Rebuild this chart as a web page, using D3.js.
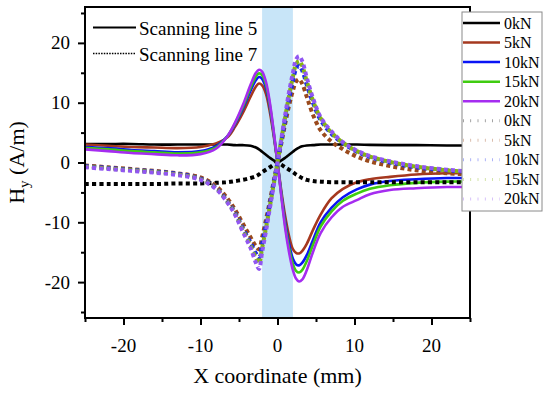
<!DOCTYPE html>
<html><head><meta charset="utf-8"><script src="https://cdn.jsdelivr.net/npm/d3@7"></script></head>
<body style="margin:0">
<script>
// ---- data ----
const xCoord = [-25,-22,-19,-16,-13,-10,-8,-6.5,-5.5,-4.5,-3.5,-2.8,-2.4,-2,-1.5,-1,-0.5,0,0.5,1,1.5,2,2.4,2.8,3.2,3.8,4.6,5.6,7,8.5,10.3,12,14.6,18,22,25];

const line5_0kN  = [3.1,3.1,3.1,3.0,3.0,3.0,3.0,3.0,2.9,2.9,2.8,2.5,2.2,1.8,1.3,0.8,0.35,0,0.35,0.8,1.3,1.8,2.2,2.5,2.7,2.85,2.9,3.0,3.0,3.0,3.0,2.95,2.9,2.9,2.85,2.85];
const line5_5kN  = [3.0,2.8,2.6,2.5,2.4,2.6,3.2,4.2,6.0,8.3,11.0,12.7,13.2,12.9,11.5,8.5,4.5,0,-4.8,-9.0,-12.3,-14.5,-15.1,-15.2,-14.8,-13.6,-11.3,-8.7,-6.0,-4.4,-3.3,-2.8,-2.4,-2.0,-1.8,-1.8];
const line5_10kN = [2.6,2.4,2.1,1.9,1.7,1.9,2.7,4.4,6.4,9.0,12.0,13.8,14.3,14.0,12.5,9.3,4.9,0,-5.3,-10.0,-13.6,-16.1,-17.0,-17.2,-16.8,-15.5,-13.0,-10.0,-7.6,-5.8,-4.5,-3.7,-3.1,-2.8,-2.6,-2.6];
const line5_15kN = [2.4,2.2,1.9,1.7,1.5,1.7,2.5,4.4,6.6,9.3,12.5,14.4,14.9,14.6,13.0,9.7,5.1,0,-5.5,-10.5,-14.3,-17.0,-18.1,-18.4,-18.0,-16.5,-13.8,-10.7,-8.2,-6.4,-5.2,-4.4,-3.8,-3.4,-3.2,-3.2];
const line5_20kN = [2.2,1.9,1.6,1.4,1.2,1.4,2.3,4.4,6.7,9.6,13.0,15.0,15.5,15.2,13.5,10.1,5.3,0,-5.7,-11.0,-15.0,-18.0,-19.4,-19.9,-19.6,-18.0,-15.0,-11.8,-9.2,-7.4,-6.3,-5.3,-4.6,-4.3,-4.1,-4.1];

const line7_0kN  = [-3.6,-3.6,-3.6,-3.6,-3.5,-3.5,-3.4,-3.3,-3.1,-2.9,-2.6,-2.3,-2.0,-1.6,-1.2,-0.8,-0.35,0,-0.35,-0.8,-1.2,-1.6,-2.0,-2.3,-2.6,-2.9,-3.1,-3.2,-3.3,-3.3,-3.3,-3.3,-3.3,-3.3,-3.3,-3.3];
const line7_5kN  = [-0.5,-0.8,-1.1,-1.4,-1.8,-2.5,-3.9,-6.0,-7.9,-10.2,-12.5,-14.0,-14.5,-12.5,-9.6,-6.5,-3.2,0,3.2,6.5,9.5,12.0,13.5,13.9,13.2,11.0,8.0,5.4,3.5,2.2,1.0,0.2,-0.6,-1.3,-1.8,-2.0];
const line7_10kN = [-0.6,-0.9,-1.2,-1.5,-1.9,-2.7,-4.2,-6.5,-8.4,-11.0,-13.4,-15.2,-15.9,-13.6,-10.4,-7.0,-3.5,0,3.6,7.2,10.6,13.6,15.6,16.2,15.4,13.0,10.0,7.1,4.8,3.2,1.8,0.9,0.0,-0.8,-1.3,-1.6];
const line7_15kN = [-0.7,-1.0,-1.3,-1.6,-2.0,-2.8,-4.3,-6.6,-8.6,-11.3,-13.9,-16.0,-16.9,-14.3,-11.0,-7.4,-3.7,0,3.8,7.6,11.2,14.3,16.4,17.0,16.2,13.6,10.4,7.4,5.0,3.3,1.9,1.0,0.1,-0.7,-1.3,-1.6];
const line7_20kN = [-0.8,-1.1,-1.4,-1.7,-2.1,-2.9,-4.4,-6.7,-8.8,-11.6,-14.3,-16.8,-17.8,-15.0,-11.5,-7.7,-3.9,0,4.0,8.0,11.8,15.0,17.2,17.8,17.0,14.2,10.8,7.6,5.2,3.4,2.0,1.1,0.2,-0.6,-1.2,-1.5];

const loadLabels = ["0kN","5kN","10kN","15kN","20kN"];
const solidColors  = ["#000000","#a5381f","#0a14f5","#3fcc10","#a52cf0"];
const dottedColors = ["#000000","#9a4a1c","#1a2ae8","#86b414","#9156f2"];
const scanLabels = ["Scanning line 5","Scanning line 7"];
const xTicks = [-20,-10,0,10,20];
const xMinorTicks = [-25,-15,-5,5,15,25];
const yTicks = [-20,-10,0,10,20];
const yMinorTicks = [-25,-15,-5,5,15,25];
const bandRange = [-2, 2];

const line5 = [line5_0kN, line5_5kN, line5_10kN, line5_15kN, line5_20kN];
const line7 = [line7_0kN, line7_5kN, line7_10kN, line7_15kN, line7_20kN];

// ---- layout ----
const W = 550, H = 393;
const L = 85, R = 470, T = 7, B = 318;

const svg = d3.select("body").append("svg").attr("width", W).attr("height", H);

const xs = d3.scaleLinear().domain([-25, 25]).range([L, R]);
const ys = d3.scaleLinear().domain([-26, 26]).range([B, T]);

// text first (same structure as a plain text page)
function txt(xp, yp, s, size, fam, anchor) {
  return svg.append("text").attr("x", xp).attr("y", yp)
    .attr("font-family", fam).attr("font-size", size)
    .attr("text-anchor", anchor || "start").text(s);
}
xTicks.forEach(v => txt(xs(v), 352, String(v), 19, "serif", "middle"));
yTicks.forEach(v => txt(70, ys(v) + 6.5, String(v), 19, "serif", "end"));
txt((L + R) / 2, 383, "X coordinate (mm)", 22, "Liberation Serif", "middle");
const yt = svg.append("text").attr("transform", `translate(24,${(T + B) / 2}) rotate(-90)`)
  .attr("font-family", "Liberation Serif").attr("font-size", 22).attr("text-anchor", "middle");
yt.append("tspan").text("H");
yt.append("tspan").attr("dy", 5).attr("font-size", 15).text("y");
yt.append("tspan").attr("dy", -5).text(" (A/m)");
txt(139, 34.5, scanLabels[0], 19, "Times New Roman");
txt(139, 60.5, scanLabels[1], 19, "Times New Roman");

svg.append("clipPath").attr("id","clip")
  .append("rect").attr("x", L).attr("y", T).attr("width", R - L).attr("height", B - T);

// shaded band
svg.append("rect")
  .attr("x", xs(bandRange[0])).attr("y", T)
  .attr("width", xs(bandRange[1]) - xs(bandRange[0])).attr("height", B - T)
  .attr("fill", "#c8e5f8");

const lineGen = d3.line().x(d => xs(d[0])).y(d => ys(d[1])).curve(d3.curveCatmullRom.alpha(0.5));
const plot = svg.append("g").attr("clip-path", "url(#clip)");

line5.forEach((vals, i) => {
  plot.append("path")
    .datum(xCoord.map((xv, k) => [xv, vals[k]]))
    .attr("fill", "none").attr("stroke", solidColors[i]).attr("stroke-width", 2.6)
    .attr("d", lineGen);
});
line7.forEach((vals, i) => {
  plot.append("path")
    .datum(xCoord.map((xv, k) => [xv, vals[k]]))
    .attr("fill", "none").attr("stroke", dottedColors[i]).attr("stroke-width", 4)
    .attr("stroke-dasharray", "4,3.2")
    .attr("d", lineGen);
});

// ticks
const gx = svg.append("g").attr("transform", `translate(0,${B})`)
  .call(d3.axisBottom(xs).tickValues(xTicks).tickSize(7).tickSizeOuter(0).tickFormat(""));
const gxm = svg.append("g").attr("transform", `translate(0,${B})`)
  .call(d3.axisBottom(xs).tickValues(xMinorTicks).tickSize(4).tickSizeOuter(0).tickFormat(""));
const gy = svg.append("g").attr("transform", `translate(${L},0)`)
  .call(d3.axisLeft(ys).tickValues(yTicks).tickSize(7).tickSizeOuter(0).tickFormat(""));
const gym = svg.append("g").attr("transform", `translate(${L},0)`)
  .call(d3.axisLeft(ys).tickValues(yMinorTicks.filter(v => v > -26 && v < 26)).tickSize(4).tickSizeOuter(0).tickFormat(""));
[gx, gxm, gy, gym].forEach(g => {
  g.select(".domain").remove();
  g.selectAll(".tick line").attr("stroke", "#000").attr("stroke-width", 2);
  g.selectAll("text").remove();
});

// frame
svg.append("rect").attr("x", L).attr("y", T).attr("width", R - L).attr("height", B - T)
  .attr("fill", "none").attr("stroke", "#000").attr("stroke-width", 2);

// top-left legend samples
[27.5, 53.5].forEach((yy, i) => {
  svg.append("line").attr("x1", 93).attr("x2", 136).attr("y1", yy).attr("y2", yy)
    .attr("stroke", "#000").attr("stroke-width", i === 0 ? 2 : 1.6)
    .attr("stroke-dasharray", i === 0 ? null : "1.5,1.2");
});

// right legend
svg.append("rect").attr("x", 462).attr("y", 12).attr("width", 80).attr("height", 199)
  .attr("fill", "#fff").attr("stroke", "#8a8a8a").attr("stroke-width", 1);
const entries = [];
loadLabels.forEach((l, i) => entries.push({label: l, color: solidColors[i], dotted: false}));
loadLabels.forEach((l, i) => entries.push({label: l, color: dottedColors[i], dotted: true}));
entries.forEach((e, i) => {
  const yy = 23 + i * 19.55;
  svg.append("line").attr("x1", 463).attr("x2", 500).attr("y1", yy).attr("y2", yy)
    .attr("stroke", e.color)
    .attr("stroke-width", e.dotted ? 3 : 2.5)
    .attr("stroke-dasharray", e.dotted ? "0.8,6.5" : null)
    .attr("stroke-opacity", e.dotted ? 0.45 : 1);
  txt(504, yy + 5.5, e.label, 16, "Tinos");
});
</script>
</body>
</html>
